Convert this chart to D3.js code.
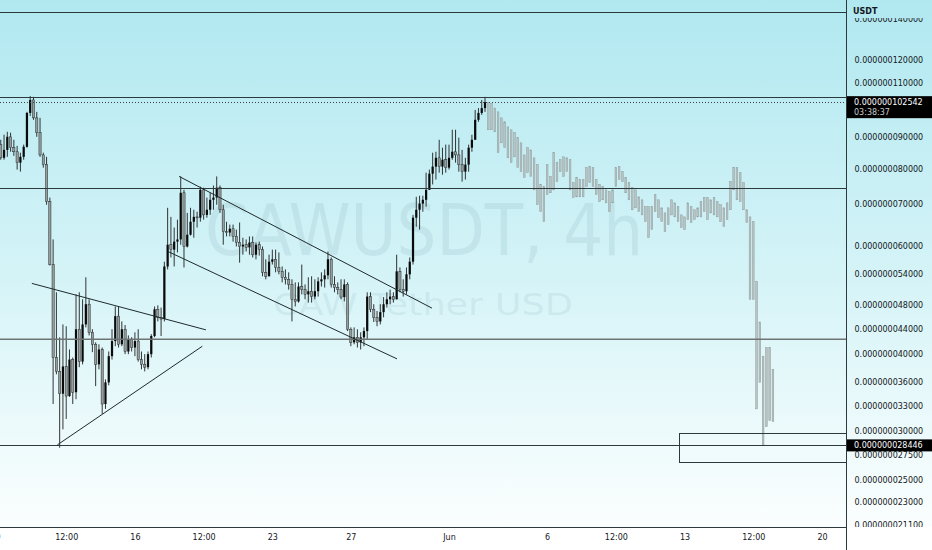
<!DOCTYPE html>
<html>
<head>
<meta charset="utf-8">
<style>
html, body { margin: 0; padding: 0; background: #fff; }
svg { display: block; }
</style>
<script src="https://cdn.jsdelivr.net/npm/d3@7"></script>
</head>
<body>
<div id="chart"></div>
<script>
// CAWUSDT 4h, prices in units of 1e-9 USDT
const firstOpen = 87.5;
const closes = [
    83.3,85.8,90.1,86.5,85.2,81.8,83.6,86.8,98.5,103.4,
    96.7,91.5,84.2,81.2,70.7,55.9,39.5,37.5,34.5,38.2,
    34.2,39.2,34.7,43.9,38.9,44.7,48.2,43.4,41.5,38.5,
    40.7,33.2,36.0,39.7,42.0,46.1,41.5,43.9,40.4,42.3,
    41.0,42.0,39.2,38.5,38.1,40.0,42.8,47.3,45.9,45.6,
    55.5,60.2,59.1,60.9,61.4,73.1,59.8,62.5,65.6,66.8,
    66.6,73.9,67.3,68.6,71.2,71.8,74.5,68.6,63.2,63.0,
    63.9,62.1,60.7,59.8,60.2,59.6,60.7,58.0,60.2,59.1,
    54.3,53.5,56.5,57.0,55.3,54.5,53.3,52.9,51.9,49.1,
    48.7,51.5,50.9,50.0,50.6,49.6,50.6,52.5,52.9,53.7,
    57.0,51.9,51.3,50.9,49.5,51.9,43.9,41.8,42.6,41.8,
    42.6,43.6,49.6,47.3,45.9,45.2,46.8,48.2,49.1,49.6,
    49.1,54.5,50.9,50.6,53.9,56.5,66.6,68.6,70.2,71.2,
    73.9,78.5,80.6,83.3,80.6,82.7,80.3,83.3,85.2,84.2,
    81.2,79.1,81.2,86.5,89.1,96.0,98.5,100.3,102.542
];
const highs = [
    89.1,90.8,91.8,91.5,89.1,87.1,84.9,87.5,98.9,104.9,
    104.6,98.9,96.7,84.9,83.6,71.8,61.4,50.4,42.6,44.7,
    44.4,40.7,39.5,50.0,50.4,49.1,53.3,49.1,43.9,41.8,
    41.5,41.0,36.4,40.4,43.9,47.8,47.8,45.2,44.6,42.9,
    42.6,43.4,43.9,40.4,40.0,40.4,43.1,47.8,48.0,47.6,
    56.5,69.1,66.8,64.2,66.1,77.7,73.9,67.8,69.1,68.6,
    68.1,74.8,74.5,71.8,73.1,75.1,77.7,75.1,69.9,65.6,
    64.9,64.9,63.7,65.4,61.8,61.4,62.1,62.1,60.7,60.9,
    59.8,57.0,58.0,59.1,59.1,58.5,55.5,54.9,54.3,52.9,
    52.3,52.3,55.9,51.9,53.3,53.5,52.9,53.3,54.3,54.9,
    58.7,57.4,53.5,52.3,52.9,52.9,52.3,44.2,44.2,43.9,
    43.4,44.2,50.4,50.4,48.2,47.0,48.2,49.5,50.4,50.9,
    50.4,58.0,55.3,52.9,55.3,57.4,67.3,72.0,72.3,72.3,
    78.8,79.7,84.9,85.2,89.1,86.5,87.5,87.5,92.5,92.5,
    89.8,85.8,83.3,87.5,90.8,99.6,100.3,103.4,104.6
];
const lows = [
    82.7,82.7,83.6,85.2,83.9,79.7,79.1,82.7,86.5,97.4,
    96.0,90.1,83.6,80.3,69.9,55.7,33.2,37.1,28.2,30.2,
    31.4,34.1,33.2,33.8,38.1,38.5,44.2,42.9,40.3,35.5,
    37.8,32.0,32.6,35.6,39.2,41.2,41.0,41.2,40.0,40.0,
    40.4,39.7,38.9,37.8,37.5,37.8,39.5,42.6,45.2,42.8,
    45.2,54.9,57.4,55.5,58.5,60.2,55.3,59.6,62.3,61.8,
    64.2,65.6,66.1,66.6,67.3,68.6,69.9,67.8,60.2,62.1,
    62.1,60.9,59.8,56.3,58.0,58.7,58.0,57.4,57.0,57.8,
    53.5,52.9,53.5,55.9,54.3,53.9,52.3,51.9,50.9,45.2,
    47.8,48.5,50.0,49.1,48.5,48.5,49.1,49.6,51.5,51.3,
    52.9,51.3,50.4,50.0,49.1,48.7,43.6,41.2,41.5,41.0,
    40.7,41.2,42.3,46.8,45.1,44.4,44.7,45.9,47.6,48.2,
    48.5,49.1,50.4,49.6,50.0,52.9,55.9,64.4,63.7,68.1,
    69.4,73.9,75.4,76.8,78.8,78.2,78.8,79.7,82.7,81.8,
    79.1,76.2,76.8,79.1,85.2,89.1,95.3,97.8,98.9
];

// projected bars pattern that follows the last candle
const ghostHighs = [
    102.5,102.1,100.3,98.9,96.7,95.3,93.5,92.5,91.5,89.8,
    88.1,84.2,86.5,85.8,83.3,81.2,75.4,74.8,81.2,77.7,
    84.9,81.8,82.7,83.6,83.3,82.7,75.9,77.4,76.8,76.8,
    80.3,80.6,80.3,76.8,75.4,74.8,73.9,73.4,73.9,80.3,
    80.6,79.1,77.4,75.9,74.5,73.9,72.0,71.2,69.4,69.4,
    69.4,72.6,71.2,69.1,67.8,69.1,71.2,70.4,69.4,67.3,
    66.8,70.4,69.4,68.6,69.1,70.7,71.8,71.8,71.2,71.8,
    70.7,69.9,69.1,70.4,76.2,80.3,80.3,78.8,75.9,68.6,
    66.8,65.6,52.5,45.1,39.7,41.0,41.0,37.8
];
const ghostLows = [
    92.5,92.5,91.8,84.9,88.1,86.5,83.3,81.8,83.6,80.3,
    79.1,77.4,78.8,77.7,73.9,69.9,68.1,65.6,72.6,73.1,
    73.9,76.2,79.1,77.7,79.1,73.9,71.8,72.0,72.0,72.0,
    74.8,75.9,74.8,72.6,70.7,71.2,70.4,68.1,70.4,74.8,
    76.8,76.2,73.1,71.2,68.6,69.1,68.1,67.3,65.6,61.8,
    63.7,68.1,66.6,65.6,63.2,64.9,67.3,66.8,65.6,64.2,
    63.7,66.1,65.4,66.1,66.8,66.8,68.1,66.1,67.8,67.3,
    66.8,65.6,64.4,66.1,68.6,73.9,71.2,70.7,68.6,65.4,
    49.1,49.1,32.6,36.0,28.5,30.5,31.2,31.1
];

const yTicks = [140,120,110,90,80,70,60,54,48,44,40,36,33,30,27.5,25,23,21.1];
const xTickDates = [
    "2024-05-09T00:00Z","2024-05-12T12:00Z","2024-05-16T00:00Z","2024-05-19T12:00Z",
    "2024-05-23T00:00Z","2024-05-27T00:00Z","2024-06-01T00:00Z","2024-06-06T00:00Z",
    "2024-06-09T12:00Z","2024-06-13T00:00Z","2024-06-16T12:00Z","2024-06-20T00:00Z"
];
const xTickLabels = ["9","12:00","16","12:00","23","27","Jun","6","12:00","13","12:00","20"];

// drawings: horizontal levels, trend lines [bar index, price], box zone
const levels = [143.6, 104.6, 74.5, 28.446];
const keyLevel = 42.3;
const lastPrice = 102.542;
const lowMark = 28.446;
const countdown = "03:38:37";
const trendLines = [
    [[9.5, 52.1], [62.7, 43.8]],
    [[17.3, 28.5], [61.6, 41.2]],
    [[54.5, 77.7], [131.8, 47.5]],
    [[51.1, 58.7], [121.1, 39.3]]
];
const zone = { fromBar: 207.3, top: 29.8, bottom: 26.7 };

const width = 932, height = 550;
const plotW = 846.5, plotH = 527;
const font = "'DejaVu Sans', Verdana, sans-serif";

const t0 = Date.UTC(2024, 4, 9, 4);
const barMs = 4 * 3600e3;
const barTime = i => new Date(t0 + i * barMs);

const x = d3.scaleUtc()
    .domain([new Date(Date.UTC(2024, 4, 9)), new Date(Date.UTC(2024, 5, 20))])
    .range([-2.5, 822]);
const y = d3.scaleLog()
    .domain([20.97, 150.2])
    .range([plotH, 0]);

const svg = d3.select("#chart").append("svg")
    .attr("width", width)
    .attr("height", height);

const defs = svg.append("defs");
const grad = defs.append("linearGradient")
    .attr("id", "bg")
    .attr("gradientUnits", "userSpaceOnUse")
    .attr("x1", 0).attr("y1", 0).attr("x2", 0).attr("y2", plotH);
grad.append("stop").attr("offset", "0%").attr("stop-color", "#b1e8f0");
grad.append("stop").attr("offset", "50%").attr("stop-color", "#d3f3f7");
grad.append("stop").attr("offset", "100%").attr("stop-color", "#fbfefe");

defs.append("clipPath").attr("id", "plot-clip")
    .append("rect").attr("width", plotW).attr("height", plotH);
defs.append("clipPath").attr("id", "yaxis-clip")
    .append("rect").attr("x", plotW).attr("y", 18).attr("width", 90).attr("height", plotH - 18);
defs.append("clipPath").attr("id", "xaxis-clip")
    .append("rect").attr("x", 0).attr("y", plotH).attr("width", plotW).attr("height", height - plotH);

svg.append("rect").attr("width", width).attr("height", plotH).attr("fill", "url(#bg)");
svg.append("rect").attr("y", plotH).attr("width", width).attr("height", height - plotH).attr("fill", "#fff");

const plot = svg.append("g").attr("clip-path", "url(#plot-clip)");

// watermark
plot.append("text")
    .attr("x", 205).attr("y", 255)
    .attr("textLength", 438).attr("lengthAdjust", "spacingAndGlyphs")
    .attr("font-family", font).attr("font-size", 71)
    .attr("fill", "#6f9ca8").attr("fill-opacity", 0.15)
    .text("CAWUSDT, 4h");
plot.append("text")
    .attr("x", 273).attr("y", 315)
    .attr("textLength", 300).attr("lengthAdjust", "spacingAndGlyphs")
    .attr("font-family", font).attr("font-size", 30)
    .attr("fill", "#6f9ca8").attr("fill-opacity", 0.15)
    .text("CAW Tether USD");

const candles = closes.map((c, i) => ({
    i, o: i ? closes[i - 1] : firstOpen, h: highs[i], l: lows[i], c
}));
const ghosts = ghostHighs.map((h, k) => ({ i: closes.length + k, h, l: ghostLows[k] }));

const step = x(barTime(1)) - x(barTime(0));
const bodyW = step * 0.68;
const ghostW = step * 0.52;

// candles
const cg = plot.append("g");
cg.selectAll("line.wick")
    .data(candles)
    .join("line")
        .attr("class", "wick")
        .attr("x1", d => x(barTime(d.i)))
        .attr("x2", d => x(barTime(d.i)))
        .attr("y1", d => y(d.h))
        .attr("y2", d => y(d.l))
        .attr("stroke", "#1e1e1e")
        .attr("stroke-width", 0.9);
cg.selectAll("rect.body")
    .data(candles)
    .join("rect")
        .attr("class", "body")
        .attr("x", d => x(barTime(d.i)) - bodyW / 2)
        .attr("width", bodyW)
        .attr("y", d => y(Math.max(d.o, d.c)))
        .attr("height", d => Math.max(1, Math.abs(y(d.o) - y(d.c))))
        .attr("fill", d => d.c >= d.o ? "#0a0a0a" : "#959e9e")
        .attr("stroke", d => d.c >= d.o ? "none" : "#2b2b2b")
        .attr("stroke-width", 0.5);

// projected bars
plot.append("g").selectAll("rect")
    .data(ghosts)
    .join("rect")
        .attr("x", d => x(barTime(d.i)) - ghostW / 2)
        .attr("width", ghostW)
        .attr("y", d => y(d.h))
        .attr("height", d => y(d.l) - y(d.h))
        .attr("fill", "#b9c3c3")
        .attr("stroke", "#8f9c9c")
        .attr("stroke-width", 0.5);

// horizontal levels
const dg = plot.append("g");
dg.selectAll("line.level")
    .data(levels)
    .join("line")
        .attr("class", "level")
        .attr("x1", 0).attr("x2", plotW)
        .attr("y1", d => Math.round(y(d)) + 0.5)
        .attr("y2", d => Math.round(y(d)) + 0.5)
        .attr("stroke", "#2d3a3d")
        .attr("stroke-width", 1);
dg.append("line")
    .attr("x1", 0).attr("x2", plotW)
    .attr("y1", y(keyLevel)).attr("y2", y(keyLevel))
    .attr("stroke", "#6e7474")
    .attr("stroke-width", 1.6);
dg.append("line")
    .attr("x1", 0).attr("x2", plotW)
    .attr("y1", Math.round(y(lastPrice)) + 0.5).attr("y2", Math.round(y(lastPrice)) + 0.5)
    .attr("stroke", "#3a4446")
    .attr("stroke-width", 1)
    .attr("stroke-dasharray", "1,2");

// trend lines
dg.selectAll("line.trend")
    .data(trendLines)
    .join("line")
        .attr("class", "trend")
        .attr("x1", d => x(barTime(d[0][0])))
        .attr("y1", d => y(d[0][1]))
        .attr("x2", d => x(barTime(d[1][0])))
        .attr("y2", d => y(d[1][1]))
        .attr("stroke", "#1f2a2c")
        .attr("stroke-width", 1);

// zone box
dg.append("rect")
    .attr("x", Math.round(x(barTime(zone.fromBar))) + 0.5)
    .attr("y", Math.round(y(zone.top)) + 0.5)
    .attr("width", plotW - Math.round(x(barTime(zone.fromBar))))
    .attr("height", Math.round(y(zone.bottom)) - Math.round(y(zone.top)))
    .attr("fill", "none")
    .attr("stroke", "#2d3a3d")
    .attr("stroke-width", 1);

// axis frame
svg.append("line")
    .attr("x1", plotW).attr("x2", plotW).attr("y1", 0).attr("y2", height)
    .attr("stroke", "#2d3a3d");
svg.append("line")
    .attr("x1", 0).attr("x2", plotW).attr("y1", plotH + 0.5).attr("y2", plotH + 0.5)
    .attr("stroke", "#2d3a3d");

// price axis
const yAxis = d3.axisRight(y)
    .tickValues(yTicks)
    .tickFormat(d => (d * 1e-9).toFixed(12))
    .tickSize(0)
    .tickPadding(8);
const gy = svg.append("g").attr("clip-path", "url(#yaxis-clip)")
    .append("g")
        .attr("transform", `translate(${plotW},0)`)
        .call(yAxis)
        .attr("font-family", font)
        .attr("font-size", 8);
gy.select(".domain").remove();
gy.selectAll("text").attr("fill", "#131722");

svg.append("text")
    .attr("x", plotW + 6.5).attr("y", 14)
    .attr("font-family", font).attr("font-size", 8).attr("font-weight", "bold")
    .attr("fill", "#131722")
    .text("USDT");

// last price label
const yl = y(lastPrice);
svg.append("rect")
    .attr("x", plotW + 0.5).attr("y", yl - 6)
    .attr("width", width - plotW).attr("height", 22)
    .attr("fill", "#000");
svg.append("text")
    .attr("x", plotW + 7.5).attr("y", yl).attr("dy", "0.35em")
    .attr("font-family", font).attr("font-size", 8)
    .attr("fill", "#fff")
    .text((lastPrice * 1e-9).toFixed(12));
svg.append("text")
    .attr("x", plotW + 7.5).attr("y", yl + 10).attr("dy", "0.35em")
    .attr("font-family", font).attr("font-size", 8)
    .attr("fill", "#c8c8c8")
    .text(countdown);

// low mark label
const ym = y(lowMark);
svg.append("rect")
    .attr("x", plotW + 0.5).attr("y", ym - 6)
    .attr("width", width - plotW).attr("height", 12)
    .attr("fill", "#000");
svg.append("text")
    .attr("x", plotW + 7.5).attr("y", ym).attr("dy", "0.35em")
    .attr("font-family", font).attr("font-size", 8)
    .attr("fill", "#fff")
    .text((lowMark * 1e-9).toFixed(12));

// time axis
const xAxis = d3.axisBottom(x)
    .tickValues(xTickDates.map(s => new Date(s)))
    .tickFormat((d, i) => xTickLabels[i])
    .tickSize(0)
    .tickPadding(7);
const gx = svg.append("g").attr("clip-path", "url(#xaxis-clip)")
    .append("g")
        .attr("transform", `translate(0,${plotH})`)
        .call(xAxis)
        .attr("font-family", font)
        .attr("font-size", 8);
gx.select(".domain").remove();
gx.selectAll("text").attr("fill", "#131722");
</script>
</body>
</html>
